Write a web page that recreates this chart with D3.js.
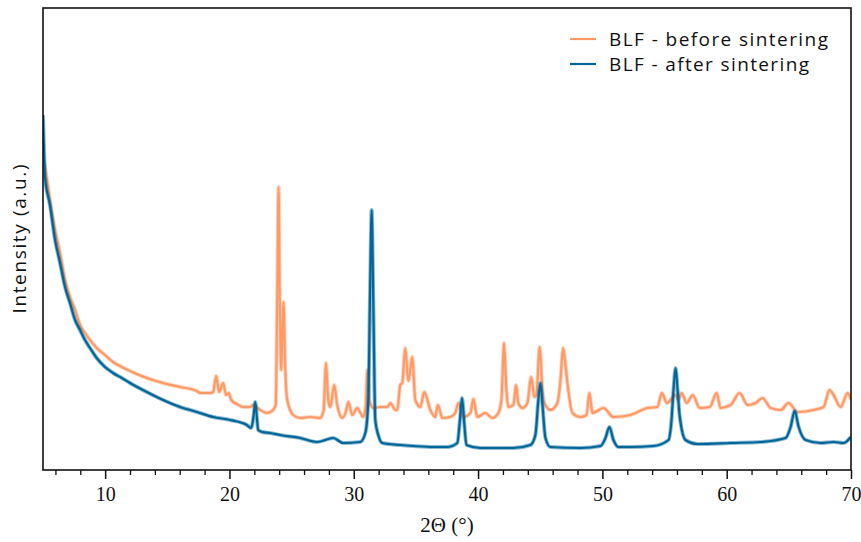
<!DOCTYPE html>
<html>
<head>
<meta charset="utf-8">
<script src="https://cdn.jsdelivr.net/npm/d3@7/dist/d3.min.js"></script>
<style>
  html, body { margin: 0; padding: 0; background: #fff; }
  svg { display: block; }
</style>
</head>
<body>
<svg id="chart" width="861" height="542"></svg>
<script>
// ---- Data (2θ in degrees, intensity in arbitrary units) ----
const seriesNames = ["BLF - before sintering", "BLF - after sintering"];
const seriesColors = ["#ff9966", "#006699"];
const xTickValues = [10, 20, 30, 40, 50, 60, 70];

const before = [
  [5.05,310],[5.16,303],[5.56,270],[5.97,240],[6.37,217],[6.77,190],[7.17,173],[7.58,160],
  [7.98,145],[8.38,137],[8.78,130],[9.32,122],[9.99,115],[10.64,108],[11.34,103],[12.00,99],
  [13.35,92],[14.66,87],[16.03,83],[17.38,79],[17.64,77],[18.45,77],[18.69,78],[18.93,94],
  [19.17,78],[19.49,87],[19.73,75],[19.94,77],[20.14,70],[20.60,66],[21.10,63],[21.67,63],
  [21.91,65],[22.47,60],[23.04,57],[23.52,60],[23.72,65],[23.84,170],[23.95,283],[24.05,170],
  [24.16,100],[24.35,168],[24.49,100],[24.65,70],[25.13,55],[25.69,52],[26.50,53],[27.30,52],
  [27.58,60],[27.76,107],[27.95,70],[28.11,63],[28.43,85],[28.67,65],[29.07,52],[29.36,58],
  [29.56,68],[29.88,55],[30.28,62],[30.77,53],[30.97,65],[31.09,100],[31.25,70],[31.57,62],
  [32.13,63],[32.70,63],[32.94,67],[33.35,60],[33.50,60],[33.74,85],[33.90,87],[34.14,122],
  [34.39,89],[34.71,113],[34.95,70],[35.35,63],[35.68,78],[36.16,60],[36.56,53],[36.76,65],
  [37.13,52],[37.77,53],[38.17,57],[38.41,67],[38.82,53],[39.38,57],[39.62,71],[39.94,53],
  [40.59,57],[41.15,52],[41.63,57],[41.88,70],[42.09,127],[42.28,80],[42.44,63],[42.84,65],
  [43.06,85],[43.24,67],[43.57,62],[43.97,67],[44.27,93],[44.53,73],[44.69,75],[44.96,123],
  [45.18,80],[45.34,67],[45.82,60],[46.38,67],[46.63,90],[46.84,122],[47.03,105],[47.19,87],
  [47.59,57],[48.24,53],[48.72,55],[48.96,77],[49.20,57],[50.09,62],[50.89,53],[52.26,55],
  [53.63,62],[54.43,63],[54.79,77],[55.19,67],[55.89,75],[56.10,70],[56.38,77],[56.79,67],
  [57.27,75],[57.83,62],[58.64,63],[59.19,77],[59.51,62],[60.31,65],[61.04,77],[61.68,65],
  [62.33,67],[62.89,72],[63.53,62],[64.34,60],[64.98,67],[65.70,58],[66.99,60],[67.79,63],
  [68.28,80],[68.60,75],[69.17,63],[69.73,77],[70.00,70]
];

const after = [
  [5.00,355],[5.08,320],[5.16,293],[5.56,265],[5.97,230],[6.37,207],[6.77,183],[7.17,167],
  [7.58,150],[7.98,140],[8.38,130],[8.78,122],[9.32,112],[9.99,103],[10.64,97],[11.34,92],
  [12.00,87],[13.35,78],[14.66,70],[16.03,63],[17.38,58],[18.69,53],[20.06,50],[21.40,45],
  [21.75,42],[21.95,55],[22.07,68],[22.19,55],[22.31,40],[22.63,38],[23.28,37],[24.08,35],
  [25.69,32],[27.06,28],[28.35,32],[29.15,27],[30.52,28],[30.93,37],[31.17,70],[31.30,170],
  [31.44,260],[31.57,170],[31.73,50],[31.97,35],[32.30,27],[33.74,25],[34.79,24],[36.40,23],
  [37.53,23],[38.33,27],[38.54,50],[38.71,72],[38.90,45],[39.06,25],[40.19,22],[42.84,22],
  [44.21,25],[44.61,35],[44.85,70],[45.02,87],[45.18,65],[45.42,32],[45.82,23],[48.24,22],
  [49.85,24],[50.25,32],[50.56,43],[50.89,30],[51.30,23],[52.26,23],[54.11,24],[55.32,30],
  [55.56,50],[55.72,80],[55.89,102],[56.05,80],[56.21,55],[56.69,30],[57.66,26],[60.31,27],
  [62.73,28],[64.74,32],[65.14,43],[65.47,59],[65.79,43],[66.35,30],[67.56,27],[68.60,28],
  [69.40,27],[69.98,33]
];

// ---- Layout ----
const svg = d3.select("#chart");
const L = 43, R = 851, T = 8, B = 470;

const x = d3.scaleLinear().domain([5, 70]).range([L, R]);
const y = d3.scaleLinear().domain([0, 462]).range([B, T]);

svg.append("clipPath").attr("id", "clip")
  .append("rect").attr("x", L).attr("y", T).attr("width", R - L).attr("height", B - T);

const line = d3.line().x(d => x(d[0])).y(d => y(d[1])).curve(d3.curveMonotoneX);

const g = svg.append("g").attr("clip-path", "url(#clip)");
[before, after].forEach((data, i) => {
  // soft halo to mimic the noisy band of the measured pattern
  g.append("path")
    .datum(data)
    .attr("fill", "none")
    .attr("stroke", seriesColors[i])
    .attr("stroke-opacity", 0.45)
    .attr("stroke-width", 4)
    .attr("stroke-linejoin", "round")
    .attr("d", line);
  g.append("path")
    .datum(data)
    .attr("fill", "none")
    .attr("stroke", seriesColors[i])
    .attr("stroke-width", 2.2)
    .attr("stroke-linejoin", "round")
    .attr("d", line);
});

// Frame
svg.append("rect")
  .attr("x", L).attr("y", T).attr("width", R - L).attr("height", B - T)
  .attr("fill", "none").attr("stroke", "#111").attr("stroke-width", 1.6);

// Bottom axis: minor ticks
const minorTicks = d3.range(6, 70, 2).filter(v => v % 10 !== 0);
svg.append("g").attr("transform", `translate(0,${B})`)
  .call(d3.axisBottom(x).tickValues(minorTicks).tickSize(5).tickFormat(""))
  .call(a => a.select(".domain").remove())
  .call(a => a.selectAll("line").attr("stroke", "#111").attr("stroke-width", 1.3));

// Bottom axis: major ticks + labels
svg.append("g").attr("transform", `translate(0,${B})`)
  .call(d3.axisBottom(x).tickValues(xTickValues).tickSize(9).tickPadding(8).tickFormat(d3.format("d")))
  .call(a => a.select(".domain").remove())
  .call(a => a.selectAll("line").attr("stroke", "#111").attr("stroke-width", 1.5))
  .call(a => a.selectAll("text")
    .style("font-family", "'Liberation Serif', 'DejaVu Serif', serif")
    .style("font-size", "20px").attr("fill", "#111"));

// Axis titles
svg.append("text")
  .attr("x", (L + R) / 2).attr("y", 532)
  .attr("text-anchor", "middle")
  .style("font-family", "'Liberation Serif', 'DejaVu Serif', serif")
  .style("font-size", "21px").attr("fill", "#111")
  .text("2Θ (°)");

svg.append("text")
  .attr("transform", `translate(26,${(T + B) / 2}) rotate(-90)`)
  .attr("text-anchor", "middle")
  .style("font-family", "'Open Sans', Lato, sans-serif")
  .style("font-size", "19px").attr("fill", "#111")
  .attr("textLength", 149).attr("lengthAdjust", "spacing")
  .text("Intensity (a.u.)");

// Legend
const legendWidths = [219, 200];
const legend = svg.append("g");
seriesNames.forEach((name, i) => {
  const yy = 39 + i * 25;
  legend.append("line")
    .attr("x1", 570).attr("x2", 596).attr("y1", yy).attr("y2", yy)
    .attr("stroke", seriesColors[i]).attr("stroke-width", 2.2);
  legend.append("text")
    .attr("x", 609).attr("y", yy + 6.5)
    .style("font-family", "'Open Sans', Lato, sans-serif")
    .style("font-size", "19px").attr("fill", "#111")
    .attr("textLength", legendWidths[i]).attr("lengthAdjust", "spacing")
    .text(name);
});
</script>
</body>
</html>
